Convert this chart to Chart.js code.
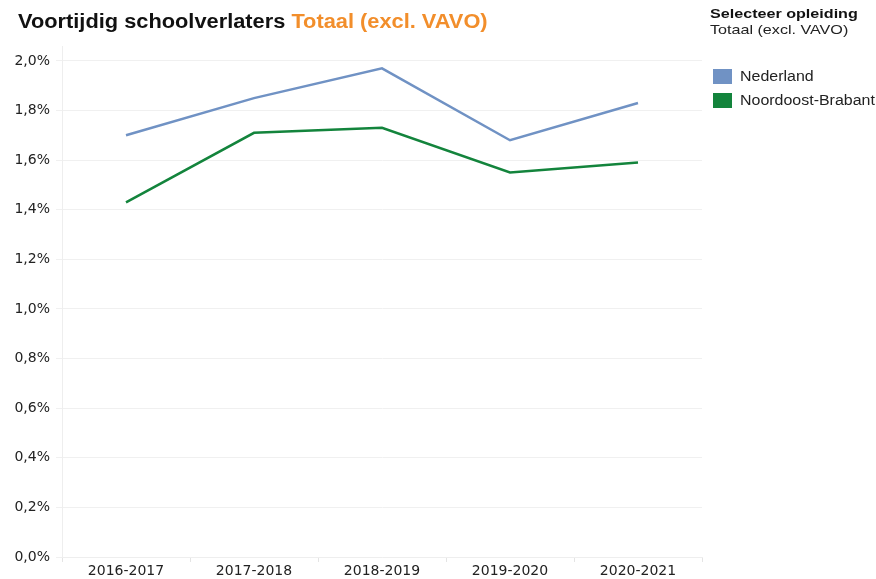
<!DOCTYPE html>
<html>
<head>
<meta charset="utf-8">
<script src="https://cdn.jsdelivr.net/npm/chart.js@4.4.1/dist/chart.umd.min.js"></script>
<style>
  body { margin: 0; background: #fff; font-family: 'Liberation Sans', Arial, sans-serif; }
  #wrap { position: relative; width: 876px; height: 579px; }
  #title { position: absolute; left: 18px; top: 10px; font-size: 20px; font-weight: bold; color: #111; white-space: nowrap;
           transform: scaleX(1.09); transform-origin: left top; }
  #title span { color: #f28e2b; }
  #filter { position: absolute; left: 710px; top: 6px; font-size: 13px; color: #222; line-height: 16px; white-space: nowrap;
            transform: scaleX(1.24); transform-origin: left top; }
  #filter b { display: block; color: #111; }
  #legend { position: absolute; left: 713px; top: 64px; font-size: 14px; color: #222; }
  .item { height: 24px; display: flex; align-items: center; white-space: nowrap; }
  .sw { width: 19px; height: 15px; margin-right: 8px; flex: none; }
  .lbl { display: inline-block; transform: scaleX(1.14); transform-origin: left center; }
</style>
</head>
<body>
<div id="wrap">
  <canvas id="myChart" width="876" height="579"></canvas>
  <div id="title">Voortijdig schoolverlaters <span>Totaal (excl. VAVO)</span></div>
  <div id="filter"><b>Selecteer opleiding</b>Totaal (excl. VAVO)</div>
  <div id="legend"></div>
</div>
<script>
// data
var years = ['2016-2017', '2017-2018', '2018-2019', '2019-2020', '2020-2021'];
var nederland = [1.70, 1.85, 1.97, 1.68, 1.83];
var noordoostBrabant = [1.43, 1.71, 1.73, 1.55, 1.59];
var seriesNames = ['Nederland', 'Noordoost-Brabant'];
var seriesColors = ['#7092c4', '#13843c'];
var yTicks = [0, 0.2, 0.4, 0.6, 0.8, 1.0, 1.2, 1.4, 1.6, 1.8, 2.0];

var tickFont = { family: 'DejaVu Sans', size: 14 };

var ctx = document.getElementById('myChart').getContext('2d');
var chart = new Chart(ctx, {
  type: 'line',
  data: {
    labels: years,
    datasets: [
      { label: seriesNames[0], data: nederland, borderColor: seriesColors[0], backgroundColor: seriesColors[0] },
      { label: seriesNames[1], data: noordoostBrabant, borderColor: seriesColors[1], backgroundColor: seriesColors[1] }
    ]
  },
  options: {
    responsive: false,
    animation: false,
    elements: {
      line: { borderWidth: 2.5, tension: 0 },
      point: { radius: 0 }
    },
    layout: { padding: { top: 46, right: 174, left: 0, bottom: 0 } },
    plugins: { legend: { display: false }, tooltip: { enabled: false } },
    scales: {
      x: {
        offset: true,
        afterFit: function (s) { s.height = 22; },
        grid: { offset: true, drawOnChartArea: false, color: '#e4e4e4', tickLength: 5 },
        border: { color: '#eeeeee' },
        ticks: { color: '#222', padding: 1, font: tickFont }
      },
      y: {
        min: 0,
        max: 2.06,
        afterFit: function (s) { s.width = 62; },
        afterBuildTicks: function (s) {
          s.ticks = yTicks.map(function (v) { return { value: v }; });
        },
        grid: { color: '#f0f0f0', tickLength: 6 },
        border: { color: '#eeeeee' },
        ticks: {
          padding: 6,
          color: '#222',
          font: tickFont,
          callback: function (v) { return v.toFixed(1).replace('.', ',') + '%'; }
        }
      }
    }
  }
});

// legend
var legend = document.getElementById('legend');
seriesNames.forEach(function (name, i) {
  var div = document.createElement('div');
  div.className = 'item';
  div.innerHTML = '<div class="sw" style="background:' + seriesColors[i] + '"></div><span class="lbl">' + name + '</span>';
  legend.appendChild(div);
});
</script>
</body>
</html>
